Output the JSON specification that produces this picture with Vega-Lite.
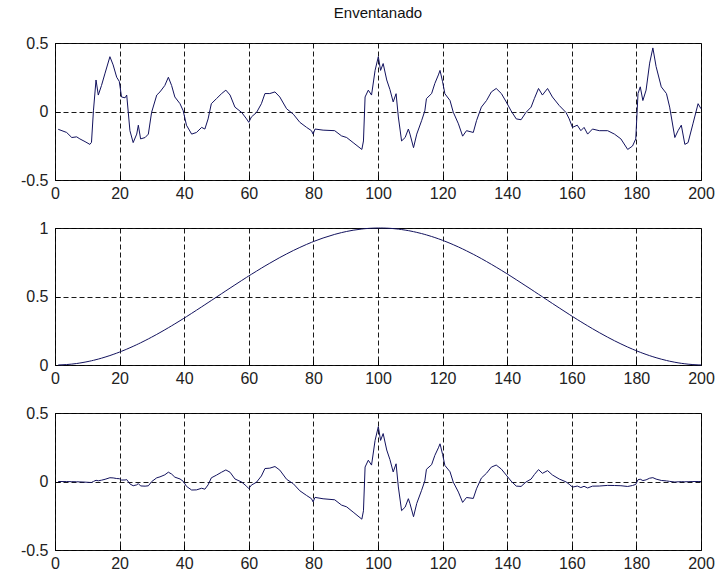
{
  "$schema": "https://vega.github.io/schema/vega-lite/v6.json",
  "autosize": {"type": "none"},
  "padding": {"left": 55, "top": 43, "right": 662, "bottom": 535},
  "background": "white",
  "datasets": {
    "frame": [
      {"n": 1, "s": -0.13, "w": 0.0002, "y": 0.0},
      {"n": 3.6, "s": -0.153, "w": 0.0032, "y": -0.0005},
      {"n": 5.2, "s": -0.19, "w": 0.0066, "y": -0.0013},
      {"n": 6.7, "s": -0.185, "w": 0.0109, "y": -0.002},
      {"n": 7.7, "s": -0.2, "w": 0.0144, "y": -0.0029},
      {"n": 9.3, "s": -0.22, "w": 0.021, "y": -0.0046},
      {"n": 10.8, "s": -0.24, "w": 0.0282, "y": -0.0068},
      {"n": 11.3, "s": -0.225, "w": 0.0309, "y": -0.007},
      {"n": 11.9, "s": 0.005, "w": 0.0342, "y": 0.0002},
      {"n": 12.7, "s": 0.23, "w": 0.0389, "y": 0.0089},
      {"n": 13.4, "s": 0.12, "w": 0.0432, "y": 0.0052},
      {"n": 14.4, "s": 0.19, "w": 0.0498, "y": 0.0095},
      {"n": 15.5, "s": 0.28, "w": 0.0576, "y": 0.0161},
      {"n": 17, "s": 0.4, "w": 0.069, "y": 0.0276},
      {"n": 18, "s": 0.34, "w": 0.0771, "y": 0.0262},
      {"n": 19.1, "s": 0.25, "w": 0.0865, "y": 0.0216},
      {"n": 19.9, "s": 0.22, "w": 0.0936, "y": 0.0206},
      {"n": 20.6, "s": 0.106, "w": 0.1001, "y": 0.0106},
      {"n": 21.7, "s": 0.1, "w": 0.1107, "y": 0.0111},
      {"n": 22.2, "s": 0.12, "w": 0.1156, "y": 0.0139},
      {"n": 23.2, "s": -0.14, "w": 0.1258, "y": -0.0176},
      {"n": 24.2, "s": -0.227, "w": 0.1364, "y": -0.031},
      {"n": 25.3, "s": -0.165, "w": 0.1484, "y": -0.0245},
      {"n": 25.8, "s": -0.1, "w": 0.154, "y": -0.0154},
      {"n": 26.5, "s": -0.2, "w": 0.1619, "y": -0.0324},
      {"n": 27.9, "s": -0.19, "w": 0.1784, "y": -0.0339},
      {"n": 28.9, "s": -0.165, "w": 0.1905, "y": -0.0314},
      {"n": 29.9, "s": -0.007, "w": 0.203, "y": -0.0014},
      {"n": 31.5, "s": 0.12, "w": 0.2234, "y": 0.0268},
      {"n": 32.5, "s": 0.143, "w": 0.2366, "y": 0.0338},
      {"n": 34, "s": 0.19, "w": 0.2568, "y": 0.0488},
      {"n": 35.1, "s": 0.25, "w": 0.272, "y": 0.068},
      {"n": 36.1, "s": 0.19, "w": 0.286, "y": 0.0543},
      {"n": 37.1, "s": 0.106, "w": 0.3002, "y": 0.0318},
      {"n": 38.7, "s": 0.057, "w": 0.3233, "y": 0.0184},
      {"n": 39.7, "s": 0.005, "w": 0.338, "y": 0.0017},
      {"n": 40.7, "s": -0.1, "w": 0.3528, "y": -0.0353},
      {"n": 42.3, "s": -0.165, "w": 0.377, "y": -0.0622},
      {"n": 43.8, "s": -0.153, "w": 0.3998, "y": -0.0612},
      {"n": 45.4, "s": -0.116, "w": 0.4245, "y": -0.0492},
      {"n": 46.4, "s": -0.128, "w": 0.44, "y": -0.0563},
      {"n": 47.4, "s": -0.054, "w": 0.4555, "y": -0.0246},
      {"n": 48.4, "s": 0.057, "w": 0.471, "y": 0.0268},
      {"n": 50, "s": 0.094, "w": 0.4961, "y": 0.0466},
      {"n": 51.6, "s": 0.131, "w": 0.521, "y": 0.0683},
      {"n": 52.9, "s": 0.156, "w": 0.5413, "y": 0.0844},
      {"n": 54.2, "s": 0.12, "w": 0.5615, "y": 0.0674},
      {"n": 55.7, "s": 0.032, "w": 0.5846, "y": 0.0187},
      {"n": 57.8, "s": -0.007, "w": 0.6168, "y": -0.0043},
      {"n": 59.3, "s": -0.054, "w": 0.6395, "y": -0.0345},
      {"n": 60, "s": -0.079, "w": 0.65, "y": -0.0514},
      {"n": 60.8, "s": -0.04, "w": 0.6619, "y": -0.0265},
      {"n": 62.4, "s": -0.007, "w": 0.6852, "y": -0.0048},
      {"n": 63.9, "s": 0.057, "w": 0.7069, "y": 0.0403},
      {"n": 65, "s": 0.131, "w": 0.7226, "y": 0.0947},
      {"n": 66.5, "s": 0.131, "w": 0.743, "y": 0.0973},
      {"n": 68.1, "s": 0.143, "w": 0.7646, "y": 0.1093},
      {"n": 69.6, "s": 0.106, "w": 0.7845, "y": 0.0832},
      {"n": 71.7, "s": 0.02, "w": 0.8107, "y": 0.0162},
      {"n": 73.8, "s": -0.02, "w": 0.8358, "y": -0.0167},
      {"n": 75.8, "s": -0.079, "w": 0.8582, "y": -0.0678},
      {"n": 77.9, "s": -0.116, "w": 0.8804, "y": -0.1021},
      {"n": 79.4, "s": -0.14, "w": 0.8951, "y": -0.1253},
      {"n": 79.9, "s": -0.165, "w": 0.8999, "y": -0.1485},
      {"n": 80.5, "s": -0.128, "w": 0.9054, "y": -0.1159},
      {"n": 83, "s": -0.136, "w": 0.927, "y": -0.1261},
      {"n": 86.6, "s": -0.14, "w": 0.9535, "y": -0.1335},
      {"n": 88.7, "s": -0.178, "w": 0.9664, "y": -0.172},
      {"n": 90.3, "s": -0.19, "w": 0.9747, "y": -0.1852},
      {"n": 92.3, "s": -0.227, "w": 0.9837, "y": -0.2233},
      {"n": 95, "s": -0.277, "w": 0.9926, "y": -0.275},
      {"n": 95.5, "s": -0.215, "w": 0.9939, "y": -0.2137},
      {"n": 96, "s": 0.106, "w": 0.9951, "y": 0.1055},
      {"n": 97, "s": 0.156, "w": 0.997, "y": 0.1555},
      {"n": 98, "s": 0.12, "w": 0.9985, "y": 0.1198},
      {"n": 99.1, "s": 0.3, "w": 0.9995, "y": 0.2999},
      {"n": 100.1, "s": 0.4, "w": 1.0, "y": 0.4},
      {"n": 100.8, "s": 0.3, "w": 1.0, "y": 0.3},
      {"n": 101.6, "s": 0.35, "w": 0.9997, "y": 0.3499},
      {"n": 102.7, "s": 0.23, "w": 0.9988, "y": 0.2297},
      {"n": 103.7, "s": 0.16, "w": 0.9975, "y": 0.1596},
      {"n": 104.7, "s": 0.07, "w": 0.9957, "y": 0.0697},
      {"n": 105.6, "s": 0.13, "w": 0.9936, "y": 0.1292},
      {"n": 106.3, "s": -0.04, "w": 0.9918, "y": -0.0397},
      {"n": 107.3, "s": -0.215, "w": 0.9887, "y": -0.2126},
      {"n": 108.4, "s": -0.19, "w": 0.9848, "y": -0.1871},
      {"n": 109.4, "s": -0.128, "w": 0.9808, "y": -0.1255},
      {"n": 109.9, "s": -0.165, "w": 0.9786, "y": -0.1615},
      {"n": 111, "s": -0.264, "w": 0.9733, "y": -0.257},
      {"n": 112, "s": -0.165, "w": 0.968, "y": -0.1597},
      {"n": 113.5, "s": -0.067, "w": 0.9593, "y": -0.0643},
      {"n": 114.5, "s": 0.005, "w": 0.9529, "y": 0.0048},
      {"n": 115, "s": 0.094, "w": 0.9495, "y": 0.0893},
      {"n": 116.6, "s": 0.131, "w": 0.938, "y": 0.1229},
      {"n": 117.6, "s": 0.205, "w": 0.9303, "y": 0.1907},
      {"n": 118.7, "s": 0.267, "w": 0.9212, "y": 0.246},
      {"n": 119.2, "s": 0.3, "w": 0.917, "y": 0.2751},
      {"n": 120, "s": 0.217, "w": 0.9099, "y": 0.1975},
      {"n": 120.7, "s": 0.13, "w": 0.9036, "y": 0.1175},
      {"n": 122.3, "s": 0.08, "w": 0.8884, "y": 0.0711},
      {"n": 123.3, "s": -0.005, "w": 0.8783, "y": -0.0044},
      {"n": 124.9, "s": -0.09, "w": 0.8615, "y": -0.0775},
      {"n": 126.2, "s": -0.18, "w": 0.8471, "y": -0.1525},
      {"n": 127.4, "s": -0.14, "w": 0.8332, "y": -0.1167},
      {"n": 129.5, "s": -0.153, "w": 0.8082, "y": -0.1237},
      {"n": 130.5, "s": -0.067, "w": 0.7958, "y": -0.0533},
      {"n": 132, "s": 0.032, "w": 0.7766, "y": 0.0249},
      {"n": 133.6, "s": 0.08, "w": 0.7553, "y": 0.0604},
      {"n": 135.1, "s": 0.143, "w": 0.7349, "y": 0.1051},
      {"n": 136.6, "s": 0.168, "w": 0.714, "y": 0.12},
      {"n": 138.2, "s": 0.131, "w": 0.6912, "y": 0.0905},
      {"n": 139.7, "s": 0.07, "w": 0.6694, "y": 0.0469},
      {"n": 141.2, "s": 0.005, "w": 0.647, "y": 0.0032},
      {"n": 142.8, "s": -0.054, "w": 0.6228, "y": -0.0336},
      {"n": 144.3, "s": -0.06, "w": 0.5999, "y": -0.036},
      {"n": 145.8, "s": -0.007, "w": 0.5768, "y": -0.004},
      {"n": 147.4, "s": 0.032, "w": 0.5523, "y": 0.0177},
      {"n": 148.4, "s": 0.094, "w": 0.5366, "y": 0.0504},
      {"n": 149.7, "s": 0.168, "w": 0.5164, "y": 0.0868},
      {"n": 150.9, "s": 0.12, "w": 0.4977, "y": 0.0597},
      {"n": 152.5, "s": 0.168, "w": 0.4726, "y": 0.0794},
      {"n": 154, "s": 0.106, "w": 0.4492, "y": 0.0476},
      {"n": 156.1, "s": 0.044, "w": 0.4168, "y": 0.0183},
      {"n": 158.2, "s": -0.007, "w": 0.3846, "y": -0.0027},
      {"n": 159.2, "s": -0.054, "w": 0.3694, "y": -0.02},
      {"n": 160.2, "s": -0.116, "w": 0.3543, "y": -0.0411},
      {"n": 161.7, "s": -0.1, "w": 0.332, "y": -0.0332},
      {"n": 162.8, "s": -0.14, "w": 0.316, "y": -0.0442},
      {"n": 163.8, "s": -0.116, "w": 0.3016, "y": -0.035},
      {"n": 164.9, "s": -0.165, "w": 0.286, "y": -0.0472},
      {"n": 166.4, "s": -0.128, "w": 0.265, "y": -0.0339},
      {"n": 168.5, "s": -0.14, "w": 0.2366, "y": -0.0331},
      {"n": 171.1, "s": -0.14, "w": 0.203, "y": -0.0284},
      {"n": 173.2, "s": -0.165, "w": 0.1772, "y": -0.0292},
      {"n": 175.2, "s": -0.2, "w": 0.154, "y": -0.0308},
      {"n": 177.3, "s": -0.277, "w": 0.131, "y": -0.0363},
      {"n": 178.8, "s": -0.252, "w": 0.1156, "y": -0.0291},
      {"n": 179.8, "s": -0.2, "w": 0.1058, "y": -0.0212},
      {"n": 180.5, "s": 0.131, "w": 0.0992, "y": 0.013},
      {"n": 181.2, "s": 0.18, "w": 0.0928, "y": 0.0167},
      {"n": 182, "s": 0.08, "w": 0.0856, "y": 0.0068},
      {"n": 183, "s": 0.156, "w": 0.0771, "y": 0.012},
      {"n": 184.1, "s": 0.353, "w": 0.0682, "y": 0.0241},
      {"n": 185.1, "s": 0.464, "w": 0.0605, "y": 0.0281},
      {"n": 186.1, "s": 0.328, "w": 0.0533, "y": 0.0175},
      {"n": 187.7, "s": 0.18, "w": 0.0426, "y": 0.0077},
      {"n": 189.3, "s": 0.131, "w": 0.0331, "y": 0.0043},
      {"n": 190.3, "s": 0.032, "w": 0.0277, "y": 0.0009},
      {"n": 191.9, "s": -0.19, "w": 0.0201, "y": -0.0038},
      {"n": 192.9, "s": -0.14, "w": 0.0159, "y": -0.0022},
      {"n": 193.9, "s": -0.1, "w": 0.0123, "y": -0.0012},
      {"n": 195, "s": -0.24, "w": 0.0088, "y": -0.0021},
      {"n": 196, "s": -0.227, "w": 0.0061, "y": -0.0014},
      {"n": 197.5, "s": -0.09, "w": 0.003, "y": -0.0003},
      {"n": 199.1, "s": 0.057, "w": 0.0009, "y": 0.0001},
      {"n": 200, "s": 0.02, "w": 0.0002, "y": 0.0}
    ]
  },
  "data": {"name": "frame"},
  "spacing": 48,
  "bounds": "flush",
  "vconcat": [
    {
      "title": {"text": "Enventanado"},
      "width": 646,
      "height": 137,
      "mark": {"type": "line", "color": "#12125e", "strokeWidth": 1},
      "encoding": {
        "x": {"field": "n", "type": "quantitative", "scale": {"domain": [0, 200], "nice": false},
              "axis": {"values": [0, 20, 40, 60, 80, 100, 120, 140, 160, 180, 200]}},
        "y": {"field": "s", "type": "quantitative", "scale": {"domain": [-0.5, 0.5], "nice": false},
              "axis": {"values": [-0.5, 0, 0.5]}}
      }
    },
    {
      "width": 646,
      "height": 137,
      "mark": {"type": "line", "color": "#12125e", "strokeWidth": 1},
      "encoding": {
        "x": {"field": "n", "type": "quantitative", "scale": {"domain": [0, 200], "nice": false},
              "axis": {"values": [0, 20, 40, 60, 80, 100, 120, 140, 160, 180, 200]}},
        "y": {"field": "w", "type": "quantitative", "scale": {"domain": [0, 1], "nice": false},
              "axis": {"values": [0, 0.5, 1]}}
      }
    },
    {
      "width": 646,
      "height": 137,
      "mark": {"type": "line", "color": "#12125e", "strokeWidth": 1},
      "encoding": {
        "x": {"field": "n", "type": "quantitative", "scale": {"domain": [0, 200], "nice": false},
              "axis": {"values": [0, 20, 40, 60, 80, 100, 120, 140, 160, 180, 200]}},
        "y": {"field": "y", "type": "quantitative", "scale": {"domain": [-0.5, 0.5], "nice": false},
              "axis": {"values": [-0.5, 0, 0.5]}}
      }
    }
  ],
  "config": {
    "view": {"stroke": "#111111", "strokeWidth": 1},
    "title": {"font": "Liberation Sans", "fontSize": 15, "fontWeight": "normal", "color": "#111111", "offset": 14},
    "axis": {
      "title": null,
      "domain": false,
      "grid": true,
      "gridColor": "#000000",
      "gridDash": [5, 3],
      "gridOpacity": 0.9,
      "gridWidth": 1,
      "ticks": true,
      "tickColor": "#000000",
      "tickSize": -5,
      "labelFont": "Liberation Sans",
      "labelFontSize": 16,
      "labelColor": "#222222",
      "labelExpr": "'' + datum.value",
      "labelFlush": false,
      "labelOverlap": false
    },
    "axisX": {"labelPadding": 10},
    "axisY": {"labelPadding": 12}
  }
}
